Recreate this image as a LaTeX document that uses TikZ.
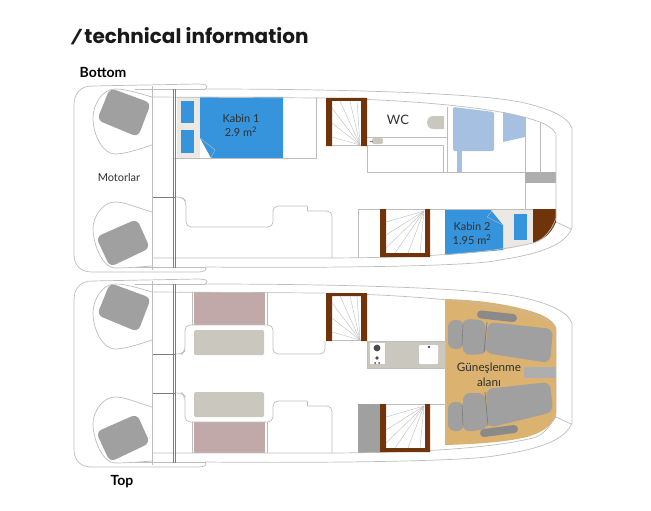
\documentclass[tikz,border=0pt]{standalone}
\usepackage{fontspec}
\setmainfont{Lato}
\newfontfamily\titlefont{Poppins}
\definecolor{linea}{HTML}{BDBDBD}
\definecolor{oscuro}{HTML}{7D7D7D}
\definecolor{motor}{HTML}{A0A0A0}
\definecolor{azul}{HTML}{3594DB}
\definecolor{celeste}{HTML}{A5C0E0}
\definecolor{marron}{HTML}{6F3409}
\definecolor{crema}{HTML}{ECE9E5}
\definecolor{rosa}{HTML}{C2A9A9}
\definecolor{arena}{HTML}{C9C7BE}
\definecolor{tostado}{HTML}{DBB26F}
\definecolor{texto}{HTML}{303030}
\tikzset{
  casco/.style={draw=linea, line width=0.7pt},
  tabique/.style={draw=linea, line width=0.7pt, rounded corners=5pt},
  mamparo/.style={draw=oscuro, line width=0.6pt},
  peldano/.style={draw=linea, line width=0.4pt},
  marco/.style={fill=marron},
  gris/.style={fill=motor},
  brazo/.style={draw=oscuro!90!white, line width=8pt, line cap=round},
  rotulo/.style={text=texto, font=\fontsize{11}{13}\selectfont, align=center, inner sep=0pt},
  cubierta/.style={text=black, font=\bfseries\fontsize{14}{16}\selectfont, inner sep=0pt},
  escotilla/.pic={
    % Casco
    \draw[casco] (205,89) .. controls (210,85) and (204,84) .. (198,84) -- (92,86)
      .. controls (80,86) and (74,94) .. (74,105) -- (74,254)
      .. controls (74,265) and (80,272) .. (92,272) -- (198,272)
      .. controls (204,272) and (208,270) .. (205,267);
    \draw[casco] (205,89) .. controls (320,89) and (470,92) .. (520,102)
      .. controls (548,108) and (567,116) .. (572,128) -- (572,228)
      .. controls (565,244) and (545,254) .. (487,262)
      .. controls (440,267) and (300,268) .. (205,267);
    \draw[casco] (152,97) -- (320,98) .. controls (420,100) and (490,108) .. (523,117)
      .. controls (540,121) and (552,126) .. (556,134) -- (556,218)
      .. controls (550,235) and (540,241) .. (533,243)
      .. controls (500,251) and (440,258) .. (320,258) -- (152,258);
    \draw[casco] (556,222) -- (571,229);
    \draw[casco] (152,86) -- (152,270);
    \draw[casco] (135,89) -- (205,89);
    \draw[casco] (135,267) -- (205,267);
    \draw[mamparo] (173,89) -- (173,268);
    \draw[mamparo] (175,89) -- (175,268);
    % Motores
    \draw[casco] (152,97) .. controls (135,92) and (125,89) .. (115,89)
      .. controls (102,89) and (93,105) .. (93,118)
      .. controls (93,135) and (103,154) .. (115,154)
      .. controls (125,154) and (140,149) .. (152,145);
    \draw[casco] (152,212) .. controls (135,207) and (125,202) .. (115,202)
      .. controls (102,202) and (93,218) .. (93,228)
      .. controls (93,245) and (103,268) .. (115,268)
      .. controls (125,268) and (140,267) .. (152,266);
    \fill[gris, rounded corners=6pt] (110,88) -- (151,103) -- (138,137) -- (97,120) -- cycle;
    \fill[gris, rounded corners=6pt] (137,219) -- (150,248) -- (110,267) -- (96,237) -- cycle;
    % Escaleras
    \fill[marco] (326,146) -- (326,98) -- (367,98) -- (367,146) -- (361,146) -- (361,101)
      -- (332,101) -- (332,146) -- cycle;
    \foreach \px/\py in {332/137, 332/123, 332/108, 340/101, 350/101, 357/101}
      \draw[peldano] (360,145) -- (\px,\py);
    \draw[casco] (332,145) -- (361,145);
    \fill[marco] (380,209) -- (386,209) -- (386,253) -- (425,253) -- (425,209) -- (430,209)
      -- (430,257) -- (380,257) -- cycle;
    \foreach \px/\py in {386/222, 386/235, 386/248, 395/253, 408/253, 420/253}
      \draw[peldano] (424,211) -- (\px,\py);
    \draw[casco] (386,209) -- (425,209);
  }
}
\begin{document}
\begin{tikzpicture}[x=1pt, y=-1pt]
  \useasboundingbox (0,0) rectangle (651,511);
  % Titulos
  \node[anchor=west, inner sep=0pt, text=black!90, font=\titlefont\bfseries\fontsize{20}{24}\selectfont] (titulo) at (69,36) {\raisebox{1.5pt}{\scalebox{1.6}[0.7]{\mdseries /}}technical information};
  \node[cubierta] (bottom) at (103,72) {Bottom};
  \node[cubierta] (top) at (122,482) {Top};

  % Cubierta inferior
  \fill[crema] (177,97) rectangle (200,158);
  \fill[azul] (200,97) -- (283,97) -- (283,158) -- (211,158) -- (200,138) -- cycle;
  \fill[azul] (181,101) rectangle (194,123);
  \fill[azul] (181,130) rectangle (194,153);
  \draw[peldano] (200,138) -- (215,150) -- (211,158);
  \fill[crema] (490,209) -- (533,209) -- (533,243) -- (503,250) -- (503,225) -- cycle;
  \fill[azul] (445,209) -- (490,209) -- (503,225) -- (503,250) -- (445,255) -- cycle;
  \fill[azul] (514,214) rectangle (527,240);
  \draw[peldano] (493,210) -- (487,217) -- (503,225);
  \fill[marron] (533,209) -- (556,209) -- (556,222) .. controls (551,234) and (543,240) .. (533,243) -- cycle;
  \fill[celeste, rounded corners=1.5pt] (453,107) -- (494,112) -- (494,151) -- (453,151) -- cycle;
  \fill[celeste] (457,151) rectangle (462,172);
  \fill[celeste] (503,112) -- (525,117) -- (525,137) -- (503,142) -- cycle;
  \fill[arena] (444,116) -- (434,116) .. controls (429,116) and (427,119) .. (427,122)
    .. controls (427,126) and (429,129) .. (434,129) -- (444,129) -- cycle;
  \fill[arena, rounded corners=2pt] (372,138) rectangle (383,144);
  \draw[oscuro, line width=0.5pt] (370,141) -- (373,141);
  \draw[casco] (173,158) -- (316,158) -- (316,97);
  \draw[casco] (367,137) -- (447,137);
  \draw[casco] (367,145) -- (443,145) -- (443,172);
  \draw[casco] (447,107) -- (447,172);
  \draw[casco] (367,146) -- (367,172) -- (556,172);
  \draw[casco] (525,117) -- (525,209);
  \draw[casco] (540,122) -- (540,172);
  \draw[casco] (358,258) -- (358,209) -- (533,209);
  \fill[motor!85!white] (525,172) rectangle (556,183);
  \draw[tabique] (175,197) -- (182,197) -- (186,201) -- (186,227) -- (273,227) -- (273,206)
    -- (307,206);
  \draw[tabique, rounded corners=0pt] (307,206) -- (307,211);
  \draw[tabique] (307,211) -- (332,211) -- (332,258);
  \draw[mamparo] (152,197) -- (175,197);

  % Cubierta superior
  \fill[rosa] (194,292) rectangle (265,325);
  \fill[rosa] (194,422) rectangle (265,453);
  \fill[arena, rounded corners=1.5pt] (194,330) rectangle (264,355);
  \fill[arena, rounded corners=1.5pt] (194,392) rectangle (264,417);
  \foreach \qx in {192,267} {
    \draw[casco] (\qx,292) -- (\qx,325);
    \draw[casco] (\qx,422) -- (\qx,453);
  }
  \fill[tostado] (445,299) .. controls (480,300) and (505,304) .. (527,310)
    .. controls (542,314) and (552,319) .. (556,327) -- (556,417)
    .. controls (550,428) and (540,433) .. (527,437)
    .. controls (505,442) and (480,444) .. (445,445) -- cycle;
  \draw[brazo] (481,314.5) -- (513,318);
  \draw[brazo] (484,433) -- (514,429);
  \fill[gris, rounded corners=7pt] (488,322) -- (553,329) -- (550,363) -- (485,353) -- cycle;
  \fill[gris, rounded corners=7pt] (462,319) -- (485,320) -- (487,354) -- (463,355) -- cycle;
  \fill[gris, rounded corners=7pt] (448,320) rectangle (464,349);
  \fill[gris, rounded corners=7pt] (486,389) -- (550,382) -- (553,412) -- (488,428) -- cycle;
  \fill[gris, rounded corners=7pt] (463,393) -- (485,393) -- (488,429) -- (463,432) -- cycle;
  \fill[gris, rounded corners=7pt] (448,402) rectangle (464,431);
  \draw[oscuro, line width=0.8pt] (487,322) -- (484,352);
  \draw[oscuro, line width=0.8pt] (485,392) -- (488,426);
  \draw[oscuro, line width=0.6pt] (463,325) -- (462,345);
  \draw[oscuro, line width=0.6pt] (462,405) -- (463,425);
  \fill[motor!85!white] (524,367) rectangle (556,378);
  \fill[arena] (367,341) rectangle (445,368);
  \draw[casco] (367,341) rectangle (445,368);
  \fill[white] (370,343) rectangle (385,364);
  \fill[white, rounded corners=1pt] (419,345) rectangle (438,364);
  \fill[black!70] (377,348) circle (3.4);
  \fill[black!70] (377,358) circle (1.8);
  \fill[black!70] (375,363) circle (1);
  \fill[black!70] (379,363) circle (1);
  \fill[black!70] (429,347) circle (1.3);
  \fill[motor] (358,404) rectangle (380,453);
  \draw[casco] (430,404) -- (445,404);
  \draw[tabique] (175,354) -- (182,354) -- (185,351) -- (185,325) -- (273,325) -- (273,354)
    -- (325,354) -- (325,341);
  \draw[mamparo] (152,354) -- (175,354);
  \draw[tabique] (175,393) -- (182,393) -- (185,396) -- (185,422) -- (273,422) -- (273,401)
    -- (307,401);
  \draw[tabique, rounded corners=0pt] (307,401) -- (307,406);
  \draw[tabique] (307,406) -- (332,406) -- (332,453);
  \draw[mamparo] (152,393) -- (175,393);

  % Casco de las dos cubiertas
  \pic (inferior) at (0,0) {escotilla};
  \pic (superior) at (0,195) {escotilla};

  % Rotulos
  \node[rotulo] (kabinuno) at (241,125) {Kabin 1\\[1pt]2.9 m\textsuperscript{2}};
  \node[rotulo] (motorlar) at (119,177) {Motorlar};
  \node[rotulo, font=\fontsize{13}{15}\selectfont] (wc) at (398,120) {WC};
  \node[rotulo] (kabindos) at (472,233) {Kabin 2\\[1pt]1.95 m\textsuperscript{2}};
  \node[rotulo, font=\fontsize{11.7}{13}\selectfont] (gunes) at (489,374.5) {Güneşlenme\\[2pt]alanı};
\end{tikzpicture}
\end{document}
